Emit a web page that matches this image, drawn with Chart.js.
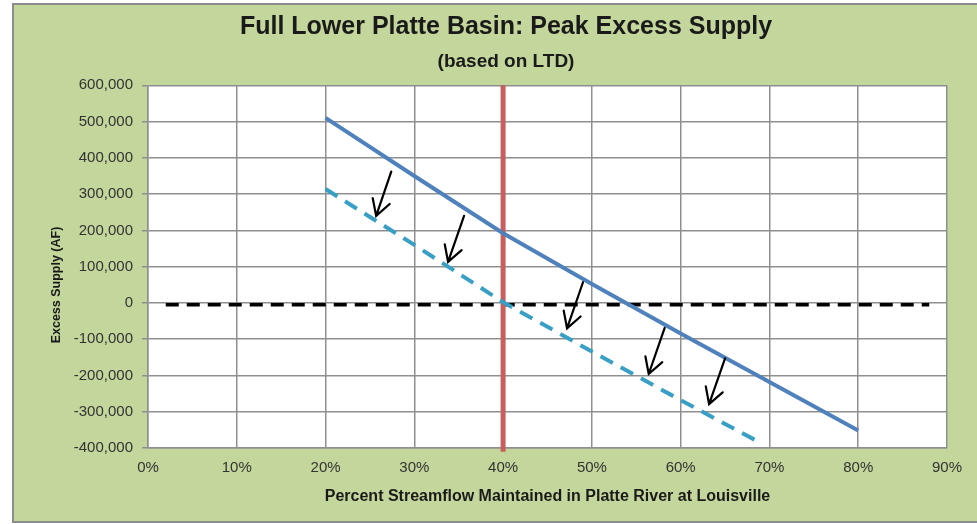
<!DOCTYPE html>
<html>
<head>
<meta charset="utf-8">
<script src="https://cdn.jsdelivr.net/npm/chart.js@4.4.1/dist/chart.umd.min.js"></script>
<style>
  html, body { margin: 0; padding: 0; background: #fff; }
  body { width: 977px; height: 524px; position: relative; overflow: hidden; }
  #frame { position: absolute; left: 12px; top: 3px; width: 980px; height: 516px;
           background: #c3d69b; border: 2px solid #8c8c8c; border-right: none; }
  #myChart { position: absolute; left: 0; top: 0; }
</style>
</head>
<body>
<div id="frame"></div>
<canvas id="myChart" width="977" height="524"></canvas>
<script>
const FONT = "'Liberation Sans', Arial, sans-serif";

// Full supply curve (% streamflow maintained -> excess supply, AF)
const supplyPct = [20, 30, 40, 50, 60, 70, 80];
const supplyAF = [510000, 350000, 192000, 52000, -84000, -218000, -352000];

// Reduced (dashed) curve
const reducedPct = [20, 30, 40, 50, 60, 69];
const reducedAF = [314000, 160000, 2000, -134000, -268000, -386000];

// zero reference line and 40% marker
const zeroPct = [2, 88];
const zeroAF = [-5000, -5000];
const markerPct = [40, 40];
const markerAF = [600000, -410000];

// arrows: tail -> head, in chart units
const arrowTailPct = [27.4, 35.6, 49.0, 58.2, 65.0];
const arrowTailAF = [362000, 240000, 57000, -69000, -153000];
const arrowHeadPct = [25.7, 33.8, 47.2, 56.4, 63.2];
const arrowHeadAF = [240000, 113000, -70000, -196000, -279000];

const xTicks = [0, 10, 20, 30, 40, 50, 60, 70, 80, 90];

function pts(xs, ys) {
  return xs.map((x, i) => ({ x: x, y: ys[i] }));
}

const plotBg = {
  id: 'plotBg',
  beforeDraw(chart) {
    const { ctx, chartArea: a } = chart;
    ctx.save();
    ctx.fillStyle = '#ffffff';
    ctx.fillRect(a.left, a.top, a.right - a.left, a.bottom - a.top);
    ctx.restore();
  }
};

// black hand-drawn style arrows between the two curves
const arrows = {
  id: 'arrows',
  afterDatasetsDraw(chart) {
    const { ctx, scales } = chart;
    ctx.save();
    ctx.strokeStyle = '#000';
    ctx.lineWidth = 2.2;
    ctx.lineCap = 'round';
    for (let i = 0; i < arrowTailPct.length; i++) {
      const x0 = scales.x.getPixelForValue(arrowTailPct[i]);
      const y0 = scales.y.getPixelForValue(arrowTailAF[i]);
      const x1 = scales.x.getPixelForValue(arrowHeadPct[i]);
      const y1 = scales.y.getPixelForValue(arrowHeadAF[i]);
      const ang = Math.atan2(y0 - y1, x0 - x1);
      const len = 18;
      ctx.beginPath();
      ctx.moveTo(x0, y0);
      ctx.lineTo(x1, y1);
      ctx.moveTo(x1 + len * Math.cos(ang - 0.52), y1 + len * Math.sin(ang - 0.52));
      ctx.lineTo(x1, y1);
      ctx.lineTo(x1 + len * Math.cos(ang + 0.52), y1 + len * Math.sin(ang + 0.52));
      ctx.stroke();
    }
    ctx.restore();
  }
};

// y axis title, sits a little below the axis centre like the original
const yTitle = {
  id: 'yTitle',
  afterDraw(chart) {
    const ctx = chart.ctx;
    ctx.save();
    ctx.translate(57, 285);
    ctx.rotate(-Math.PI / 2);
    ctx.font = 'bold 12.5px ' + FONT;
    ctx.fillStyle = '#1a1a1a';
    ctx.textAlign = 'center';
    ctx.textBaseline = 'middle';
    ctx.fillText('Excess Supply (AF)', 0, 0);
    ctx.restore();
  }
};

const ctx = document.getElementById('myChart').getContext('2d');

const myChart = new Chart(ctx, {
  type: 'line',
  data: {
    datasets: [
      {
        data: pts(supplyPct, supplyAF),
        borderColor: '#4f81bd',
        borderWidth: 4,
        pointRadius: 0,
        tension: 0
      },
      {
        data: pts(reducedPct, reducedAF),
        borderColor: '#3a9fc4',
        borderWidth: 4,
        borderDash: [14, 9],
        pointRadius: 0,
        tension: 0
      },
      {
        data: pts(markerPct, markerAF),
        borderColor: '#c6605e',
        borderWidth: 5,
        pointRadius: 0,
        clip: false
      },
      {
        data: pts(zeroPct, zeroAF),
        borderColor: '#000000',
        borderWidth: 3.5,
        borderDash: [13, 8],
        pointRadius: 0
      }
    ]
  },
  options: {
    responsive: false,
    animation: false,
    layout: { padding: { left: 65, right: 30, top: 0, bottom: 0 } },
    scales: {
      x: {
        type: 'linear',
        min: 0,
        max: 90,
        afterBuildTicks: (s) => { s.ticks = xTicks.map(v => ({ value: v })); },
        afterFit: (s) => { s.height = 76; },
        grid: { color: '#8f8f8f', lineWidth: 1.5, drawTicks: false },
        border: { color: '#8f8f8f', width: 1.5 },
        ticks: {
          padding: 11,
          maxRotation: 0,
          color: '#333',
          font: { family: FONT, size: 15 },
          callback: (v) => v + '%'
        },
        title: {
          display: true,
          text: 'Percent Streamflow Maintained in Platte River at Louisville',
          color: '#1a1a1a',
          font: { family: FONT, size: 16, weight: 'bold' },
          padding: { top: 0, bottom: 18 }
        }
      },
      y: {
        min: -400000,
        max: 600000,
        afterFit: (s) => { s.width = 83; },
        grid: { color: '#8f8f8f', lineWidth: 1.5, tickLength: 6 },
        border: { color: '#8f8f8f', width: 1.5 },
        ticks: {
          stepSize: 100000,
          padding: 9,
          color: '#333',
          font: { family: FONT, size: 15 },
          callback: (v) => v.toLocaleString('en-US')
        }
      }
    },
    plugins: {
      legend: { display: false },
      tooltip: { enabled: false },
      title: {
        display: true,
        text: 'Full Lower Platte Basin: Peak Excess Supply',
        color: '#1a1a1a',
        font: { family: FONT, size: 25, weight: 'bold' },
        padding: { top: 12, bottom: 8 }
      },
      subtitle: {
        display: true,
        text: '(based on LTD)',
        color: '#1a1a1a',
        font: { family: FONT, size: 19, weight: 'bold' },
        padding: { top: 0, bottom: 12.5 }
      }
    }
  },
  plugins: [plotBg, arrows, yTitle]
});
</script>
</body>
</html>
